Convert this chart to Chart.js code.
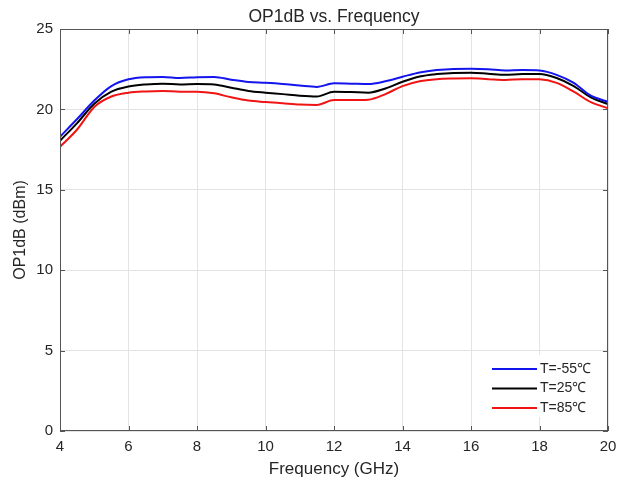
<!DOCTYPE html>
<html>
<head>
<meta charset="utf-8">
<script src="https://cdn.jsdelivr.net/npm/chart.js@4/dist/chart.umd.min.js"></script>
<style>
  html, body { margin: 0; padding: 0; background: #fff; }
  #wrap { width: 629px; height: 484px; }
</style>
</head>
<body>
<div id="wrap"><canvas id="c" width="629" height="484"></canvas></div>
<script>
/* data */
const freqs   = [4, 4.5, 5, 5.5, 6, 6.5, 7, 7.5, 8, 8.5, 9, 9.5, 10, 10.5, 11, 11.5, 12, 12.5, 13, 13.5, 14, 14.5, 15, 15.5, 16, 16.5, 17, 17.5, 18, 18.5, 19, 19.5, 20];
const tMinus55 = [18.3, 19.4, 20.55, 21.45, 21.87, 22.0, 22.02, 21.95, 22.0, 22.02, 21.85, 21.7, 21.65, 21.58, 21.48, 21.4, 21.62, 21.6, 21.58, 21.75, 22.03, 22.3, 22.45, 22.52, 22.53, 22.5, 22.42, 22.45, 22.42, 22.15, 21.65, 20.85, 20.48];
const t25      = [18.05, 19.15, 20.35, 21.1, 21.42, 21.55, 21.6, 21.55, 21.58, 21.55, 21.35, 21.15, 21.04, 20.95, 20.85, 20.8, 21.1, 21.08, 21.04, 21.3, 21.72, 22.05, 22.2, 22.27, 22.28, 22.22, 22.15, 22.2, 22.2, 21.95, 21.45, 20.75, 20.33];
const t85      = [17.68, 18.75, 20.15, 20.8, 21.04, 21.12, 21.15, 21.1, 21.1, 21.0, 20.75, 20.55, 20.46, 20.38, 20.3, 20.28, 20.58, 20.58, 20.6, 20.95, 21.45, 21.75, 21.88, 21.92, 21.93, 21.88, 21.83, 21.88, 21.87, 21.65, 21.1, 20.45, 20.07];
const seriesLabels = ['T=-55\u2103', 'T=25\u2103', 'T=85\u2103'];
const seriesColors = ['#1414ee', '#000000', '#f01414'];
const xTicks = [4, 6, 8, 10, 12, 14, 16, 18, 20];
const yTicks = [0, 5, 10, 15, 20, 25];

const FONT = 'Liberation Sans, Arial, sans-serif';
const TXT  = '#262626';

const toPts = vals => vals.map((v, i) => ({ x: freqs[i], y: v }));

/* box, inner ticks and legend drawn MATLAB-style */
const matlabBox = {
  id: 'matlabBox',
  afterDraw(chart) {
    const { ctx, chartArea: a, scales } = chart;
    ctx.save();
    ctx.strokeStyle = '#555';
    ctx.lineWidth = 1;
    ctx.strokeRect(a.left + 0.5, a.top + 0.5, a.right - a.left - 1, a.bottom - a.top - 1);
    ctx.beginPath();
    xTicks.forEach(t => {
      const x = Math.round(scales.x.getPixelForValue(t)) + 0.5;
      ctx.moveTo(x, a.bottom); ctx.lineTo(x, a.bottom - 5);
      ctx.moveTo(x, a.top);    ctx.lineTo(x, a.top + 5);
    });
    yTicks.forEach(t => {
      const y = Math.round(scales.y.getPixelForValue(t)) + 0.5;
      ctx.moveTo(a.left, y);  ctx.lineTo(a.left + 5, y);
      ctx.moveTo(a.right, y); ctx.lineTo(a.right - 5, y);
    });
    ctx.stroke();

    /* legend, lower right inside plot */
    const bx = a.right - 124, by = a.bottom - 76, bw = 121, bh = 62;
    ctx.fillStyle = '#fff';
    ctx.fillRect(bx, by, bw, bh);
    ctx.font = '14px ' + FONT;
    ctx.textBaseline = 'middle';
    chart.data.datasets.forEach((ds, i) => {
      const y = by + 14 + i * 19.5;
      ctx.strokeStyle = ds.borderColor;
      ctx.lineWidth = 2;
      ctx.beginPath();
      ctx.moveTo(bx + 8, y); ctx.lineTo(bx + 53, y);
      ctx.stroke();
      ctx.fillStyle = TXT;
      ctx.fillText(ds.label, bx + 56, y);
    });
    ctx.restore();
  }
};

new Chart(document.getElementById('c'), {
  type: 'line',
  data: {
    datasets: [tMinus55, t25, t85].map((vals, i) => ({
      label: seriesLabels[i],
      data: toPts(vals),
      borderColor: seriesColors[i],
      backgroundColor: seriesColors[i],
      borderWidth: 2,
      pointRadius: 0,
      tension: 0.4,
      cubicInterpolationMode: 'monotone',
      fill: false
    }))
  },
  options: {
    responsive: false,
    animation: false,
    layout: { padding: { left: 0, right: 21, top: 0, bottom: 4 } },
    plugins: {
      legend: { display: false },
      tooltip: { enabled: false },
      title: {
        display: true,
        fullSize: false,
        text: 'OP1dB vs. Frequency',
        color: TXT,
        font: { family: FONT, size: 17.5, weight: 'normal' },
        padding: { top: 7, bottom: 1 }
      }
    },
    scales: {
      x: {
        type: 'linear',
        min: 4, max: 20,
        afterBuildTicks: s => { s.ticks = xTicks.map(v => ({ value: v })); },
        afterFit: s => { s.height = 49; },
        ticks: { color: TXT, font: { family: FONT, size: 15 }, padding: 7 },
        grid: { color: '#e3e3e3', drawTicks: false },
        border: { display: false },
        title: { display: true, text: 'Frequency (GHz)', color: TXT, font: { family: FONT, size: 17 }, padding: { top: 0, bottom: 0 } }
      },
      y: {
        min: 0, max: 25,
        afterBuildTicks: s => { s.ticks = yTicks.map(v => ({ value: v })); },
        afterFit: s => { s.width = 60; },
        ticks: { color: TXT, font: { family: FONT, size: 15 }, padding: 7 },
        grid: { color: '#e3e3e3', drawTicks: false },
        border: { display: false },
        title: { display: true, text: 'OP1dB (dBm)', color: TXT, font: { family: FONT, size: 16 }, padding: { top: 11, bottom: 0 } }
      }
    }
  },
  plugins: [matlabBox]
});
</script>
</body>
</html>
